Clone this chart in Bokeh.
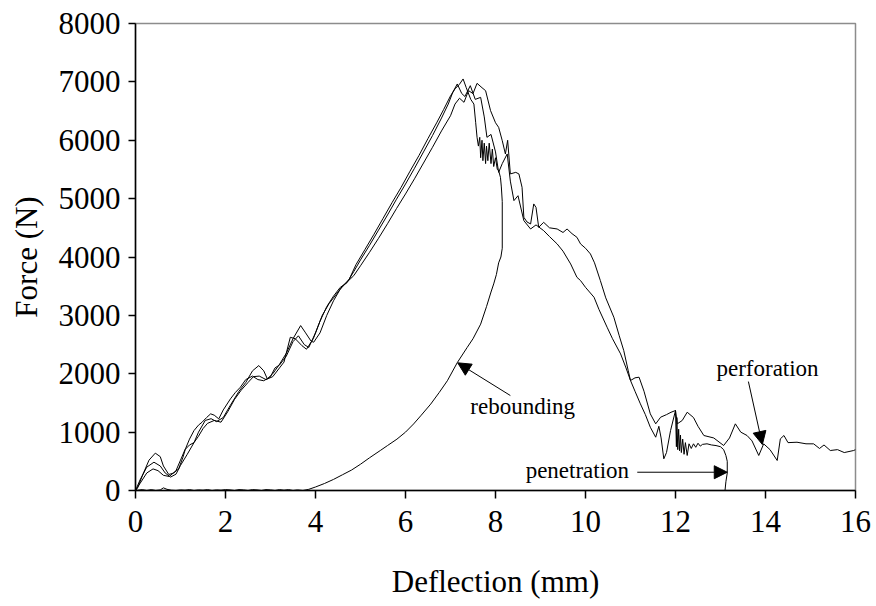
from bokeh.plotting import figure
from bokeh.models import Range1d, Label, Arrow, NormalHead, FixedTicker
from bokeh.embed import file_html
from bokeh.resources import INLINE

# ---------------- data ----------------
x_ticks = [0, 2, 4, 6, 8, 10, 12, 14, 16]
y_ticks = [0, 1000, 2000, 3000, 4000, 5000, 6000, 7000, 8000]

# Test 1: rebounding (loading, drop, unloading back to zero)
reb_x = [0, 0.05, 0.15, 0.3, 0.44, 0.55, 0.62, 0.74, 0.85, 0.96, 1.05, 1.11, 1.2, 1.3, 1.4,
         1.48, 1.58, 1.67, 1.75, 1.85, 1.95, 2.11, 2.22, 2.33, 2.45, 2.6, 2.72, 2.85, 3.0,
         3.1, 3.2, 3.35, 3.5, 3.62, 3.75, 3.85, 4.0, 4.15, 4.3, 4.45, 4.6, 4.75, 4.9, 5.1,
         5.3, 5.5, 5.7, 5.9, 6.1, 6.3, 6.5, 6.7, 6.85, 7.0, 7.1, 7.2, 7.28,
         7.35, 7.45, 7.52, 7.56, 7.59, 7.62, 7.65, 7.67, 7.7, 7.72, 7.75, 7.78, 7.8, 7.83,
         7.86, 7.9, 7.93, 7.96, 8.0, 8.04, 8.07, 8.11, 8.13, 8.15, 8.15, 8.12, 8.07, 8.02,
         7.96, 7.9, 7.8, 7.67, 7.5, 7.37, 7.15, 6.93, 6.75, 6.56, 6.35, 6.18, 6.0, 5.81,
         5.6, 5.44, 5.2, 5.0, 4.8, 4.6, 4.4, 4.2, 4.0, 3.85, 3.72,
         3.6, 3.5, 3.4, 3.3, 3.2, 3.1, 3.0, 2.9, 2.8, 2.7, 2.6, 2.5, 2.4, 2.3, 2.2, 2.1,
         2.0, 1.9, 1.8, 1.7, 1.6, 1.5, 1.4, 1.3, 1.2, 1.1, 1.0, 0.9, 0.8, 0.7, 0.62, 0.55,
         0.45, 0.35, 0.25, 0.15, 0.05, 0]
reb_f = [0, 50, 250, 520, 640, 580, 420, 274, 300, 371, 560, 713, 880, 1027, 1120,
         1170, 1250, 1313, 1290, 1227, 1380, 1570, 1680, 1769, 1900, 1960, 1900, 1880, 1950,
         2100, 2150, 2300, 2550, 2650, 2500, 2450, 2700, 3000, 3200, 3350, 3500, 3620, 3870, 4130,
         4390, 4660, 4930, 5190, 5470, 5740, 6030, 6310, 6530, 6760, 6880, 6960, 7050,
         6900, 6700, 6620, 6300, 6050, 5900, 6050, 5700, 6000, 5650, 5950, 5600, 5900, 5650,
         5950, 5600, 5850, 5550, 5700, 5500, 5480, 5365, 5200, 4950, 4150, 4000, 3900, 3700,
         3539, 3400, 3150, 2850, 2600, 2450, 2190, 1880, 1680, 1480, 1290, 1140, 1000, 880,
         770, 685, 560, 450, 350, 270, 190, 120, 60, 20, 0,
         10, 0, 15, 5, 15, 0, 10, 15, 0, 10, 15, 0, 10, 15, 0, 10,
         15, 5, 10, 0, 15, 5, 10, 0, 15, 5, 10, 0, 5, 20, 45, 10,
         0, 15, 0, 15, 5, 0]

# Test 2: perforation
per_x = [0, 0.1, 0.25, 0.41, 0.55, 0.66, 0.78, 0.9, 1.0, 1.15, 1.3, 1.4, 1.5, 1.6, 1.75, 1.9,
         2.05, 2.2, 2.35, 2.5, 2.62, 2.75, 2.9, 3.05, 3.2, 3.3, 3.44, 3.55, 3.7, 3.8, 3.95,
         4.1, 4.25, 4.4, 4.55, 4.7, 4.85, 5.0, 5.2, 5.4, 5.6, 5.8, 6.0, 6.2, 6.4, 6.6, 6.8,
         6.95, 7.05, 7.15, 7.25, 7.32, 7.44, 7.55, 7.67, 7.75, 7.81, 7.9, 8.0, 8.07, 8.15,
         8.26, 8.33, 8.41, 8.5, 8.63, 8.78, 8.9, 9.07, 9.2, 9.37, 9.5, 9.67, 9.81, 9.89, 10.0,
         10.19, 10.3, 10.48, 10.6, 10.78, 10.9, 11.0, 11.1, 11.22, 11.33, 11.44, 11.56, 11.63,
         11.68, 11.74, 11.8, 11.89, 12.0, 12.04, 12.15, 12.26, 12.4, 12.5, 12.63, 12.85, 13.07,
         13.2, 13.33, 13.45, 13.59, 13.7, 13.85, 13.96, 14.1, 14.26, 14.33, 14.41, 14.5, 14.7,
         14.9, 15.07, 15.2, 15.3, 15.44, 15.6, 15.75, 15.96, 16.0]
per_f = [0, 180, 400, 485, 420, 300, 230, 280, 430, 620, 820, 930, 1060, 1150, 1200, 1170,
         1350, 1560, 1720, 1850, 1950, 1960, 1900, 1950, 2100, 2200, 2625, 2600, 2480, 2420, 2600,
         2900, 3150, 3330, 3480, 3560, 3750, 3950, 4200, 4460, 4720, 4990, 5250, 5520, 5800, 6080, 6380,
         6620, 6820, 6964, 6800, 6750, 6935, 6700, 6735, 6400, 6050, 6100, 5800, 5450, 5600,
         5765, 5300, 4966, 5050, 4623, 4480, 4550, 4452, 4350, 4224, 4100, 3881, 3652, 3596, 3480,
         3310, 3100, 2797, 2600, 2340, 2100, 1884, 1700, 1484, 1300, 1084, 913, 1100,
         900, 543, 650, 1027, 1370, 1142, 1200, 1341, 1250, 1100, 942, 900, 771,
         900, 1142, 1000, 942, 850, 600, 799, 700, 514, 885, 942, 820, 827,
         800, 799, 720, 780, 685, 700, 650, 685, 700]

# Test 3: penetration
pen_x = [0, 0.1, 0.25, 0.39, 0.5, 0.62, 0.75, 0.9, 1.0, 1.1, 1.2, 1.3, 1.4, 1.55, 1.68, 1.8,
         1.95, 2.1, 2.3, 2.45, 2.6, 2.74, 2.85, 2.93, 3.05, 3.19, 3.35, 3.5, 3.67, 3.78, 3.9,
         3.96, 4.1, 4.25, 4.4, 4.55, 4.7, 4.85, 5.0, 5.2, 5.4, 5.6, 5.8, 6.0, 6.2, 6.4, 6.6,
         6.8, 7.0, 7.1, 7.2, 7.3, 7.4, 7.5, 7.59, 7.7, 7.78, 7.89, 8.0, 8.07, 8.15, 8.22, 8.27,
         8.33, 8.45, 8.52, 8.59, 8.63, 8.7, 8.78, 8.85, 8.9, 8.96, 9.07, 9.2, 9.37, 9.5, 9.59,
         9.7, 9.81, 9.89, 10.0, 10.11, 10.2, 10.33, 10.45, 10.63, 10.75, 10.85, 10.95, 11.0,
         11.1, 11.19, 11.3, 11.44, 11.56, 11.67, 11.8, 11.9, 12.0, 12.02, 12.03, 12.05, 12.07,
         12.09, 12.11, 12.13, 12.16, 12.19, 12.22, 12.26, 12.3, 12.35, 12.4, 12.45, 12.5, 12.55,
         12.6, 12.7, 12.8, 12.9, 13.0, 13.07, 13.12, 13.15, 13.15, 13.12, 13.1]
pen_f = [0, 120, 300, 370, 340, 260, 240, 340, 520, 700, 780, 820, 1000, 1200, 1230, 1180,
         1250, 1450, 1700, 1850, 2050, 2140, 2050, 1912, 2000, 2150, 2350, 2600, 2825, 2700, 2560,
         2540, 2700, 3000, 3250, 3450, 3570, 3680, 3850, 4080, 4320, 4570, 4830, 5080, 5340, 5610, 5880,
         6160, 6420, 6620, 6720, 6650, 6850, 6800, 6975, 6900, 6849, 6507, 6300, 6221, 5993, 5765, 6000,
         5423, 5450, 5423, 5194, 4680, 4600, 4566, 4909, 4850, 4509, 4594, 4500, 4480, 4420, 4480,
         4400, 4337, 4224, 4150, 4052, 3900, 3596, 3300, 2968, 2650, 2397, 2050, 1884,
         1930, 1941, 1700, 1313, 1142, 1256, 1300, 1340, 1370, 750, 1250, 700, 1050,
         680, 950, 650, 880, 620, 820, 600, 800, 720, 800, 740, 810, 760,
         790, 800, 780, 770, 750, 700, 600, 500, 300, 150, 0]

# annotations: (text, x, y) and arrows (x_start, y_start, x_end, y_end)
ann_text = ["rebounding", "penetration", "perforation"]
ann_x = [7.44, 8.67, 12.91]
ann_y = [1438, 342, 2089]
arr_x0 = [8.33, 11.15, 13.62]
arr_y0 = [1627, 313, 1866]
arr_x1 = [7.16, 13.15, 13.93]
arr_y1 = [2187, 313, 788]

FONT = "Liberation Serif"

p = figure(width=876, height=606, output_backend="svg", toolbar_location=None,
           x_range=Range1d(0, 16), y_range=Range1d(0, 8000),
           min_border_left=135, min_border_right=21, min_border_top=23,
           min_border_bottom=116)
p.background_fill_color = "white"
p.border_fill_color = "white"
p.outline_line_color = "#8c8c8c"
p.outline_line_width = 1.5
p.xgrid.visible = False
p.ygrid.visible = False

for xs, ys in [(reb_x, reb_f), (per_x, per_f), (pen_x, pen_f)]:
    p.line(xs, ys, line_color="black", line_width=1)

for ax in (p.xaxis[0], p.yaxis[0]):
    ax.axis_line_color = "black"
    ax.axis_line_width = 1.5
    ax.major_tick_line_color = "black"
    ax.major_tick_line_width = 1.5
    ax.major_tick_in = 0
    ax.minor_tick_line_color = None
    ax.major_label_text_font = FONT
    ax.major_label_text_font_size = "31px"
    ax.major_label_text_color = "black"
    ax.axis_label_text_font = FONT
    ax.axis_label_text_font_size = "31px"
    ax.axis_label_text_font_style = "normal"
    ax.axis_label_text_color = "black"

p.xaxis.ticker = FixedTicker(ticks=x_ticks)
p.yaxis.ticker = FixedTicker(ticks=y_ticks)
p.xaxis.major_tick_out = 8
p.yaxis.major_tick_out = 7
p.xaxis.major_label_standoff = 12
p.yaxis.major_label_standoff = 8
p.xaxis.axis_label = "Deflection (mm)"
p.yaxis.axis_label = "Force (N)"
p.xaxis.axis_label_standoff = 29
p.yaxis.axis_label_standoff = 12

for t, x, y in zip(ann_text, ann_x, ann_y):
    p.add_layout(Label(x=x, y=y, text=t, text_font=FONT, text_font_size="23px",
                       text_color="black", text_baseline="middle", text_align="left"))

for x0, y0, x1, y1 in zip(arr_x0, arr_y0, arr_x1, arr_y1):
    p.add_layout(Arrow(end=NormalHead(size=13, fill_color="black", line_color="black"),
                       x_start=x0, y_start=y0, x_end=x1, y_end=y1,
                       line_color="black", line_width=1))

open("out.html", "w").write(file_html(p, INLINE))
